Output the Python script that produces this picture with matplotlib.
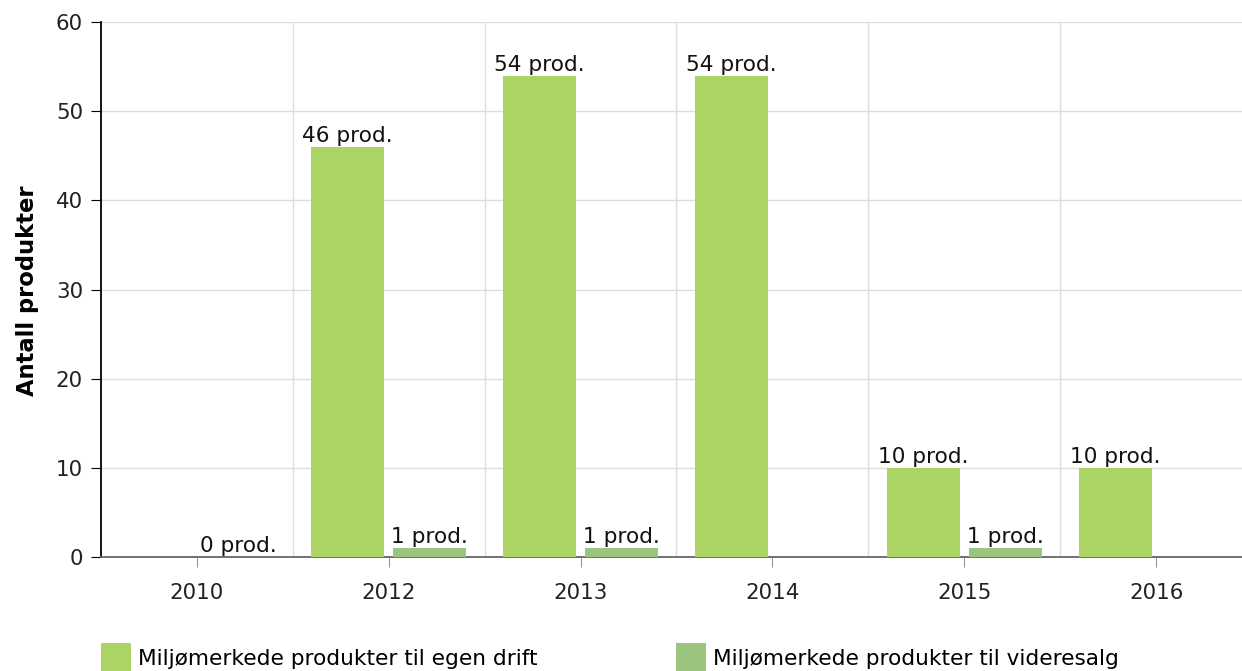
import matplotlib
matplotlib.use("Agg")
import matplotlib.pyplot as plt
from matplotlib.patches import Rectangle
import numpy as np

years = ["2010", "2012", "2013", "2014", "2015", "2016"]
egen_drift = [None, 46, 54, 54, 10, 10]
videresalg = [0, 1, 1, None, 1, None]
series_names = ["Miljømerkede produkter til egen drift",
                "Miljømerkede produkter til videresalg"]
colors = ["#acd464", "#9bc57f"]

W, H = 1242, 671
fig = plt.figure(figsize=(W / 100, H / 100), dpi=100)
plt.rcParams['font.family'] = ['DejaVu Sans']
left, right, top, bottom = 101, 1242, 22, 557
ax = fig.add_axes([left / W, (H - bottom) / H, (right - left) / W, (bottom - top) / H])

x = np.arange(len(years))
off = 41 / 192
bw = 73 / 192
fs = 15.6

for vals, sign, col in [(egen_drift, -1, colors[0]), (videresalg, 1, colors[1])]:
    for xi, v in zip(x, vals):
        if v is None:
            continue
        ax.bar(xi + sign * off, v, width=bw, color=col, zorder=3, linewidth=0)
        ax.annotate(f"{v} prod.", (xi + sign * off, v), xytext=(0, 3.5),
                    textcoords="offset points", ha="center", va="baseline",
                    fontsize=fs, color="#111111", zorder=4)

ax.set_xlim(-0.5, 5.5 - 10 / 192)
ax.set_ylim(0, 60)
ax.set_yticks(range(0, 61, 10))
ax.set_xticks(x)
ax.set_xticklabels(years)
ax.set_xticks(np.arange(0.5, 5.5, 1), minor=True)
ax.grid(which="minor", axis="x", color="#dddddd", linewidth=1, zorder=0)
ax.grid(which="major", axis="y", color="#dddddd", linewidth=1, zorder=0)
ax.tick_params(axis="x", which="minor", length=0)
ax.tick_params(axis="x", which="major", length=7, color="#999999", labelsize=15.4,
               pad=12, labelcolor="#222222")
ax.tick_params(axis="y", length=7, color="black", labelsize=15.4, pad=6,
               labelcolor="#222222")

for s in ["top", "right"]:
    ax.spines[s].set_visible(False)
ax.spines["left"].set_color("black")
ax.spines["left"].set_linewidth(1.3)
ax.spines["bottom"].set_color("#666666")
ax.spines["bottom"].set_linewidth(1.3)

fig.text(28 / W, 1 - 291 / H, "Antall produkter", rotation=90, ha="center", va="center",
         fontsize=16.3, fontweight="bold")

# legend
for (lx, tx), name, col in zip([(101, 138), (676, 713)], series_names, colors):
    fig.patches.append(Rectangle((lx / W, 1 - 672 / H), 30 / W, 29 / H,
                                 transform=fig.transFigure, facecolor=col,
                                 edgecolor="none", figure=fig))
    fig.text(tx / W, 1 - 659 / H, name, ha="left", va="center", fontsize=fs)

fig.savefig("out.png", dpi=100)
